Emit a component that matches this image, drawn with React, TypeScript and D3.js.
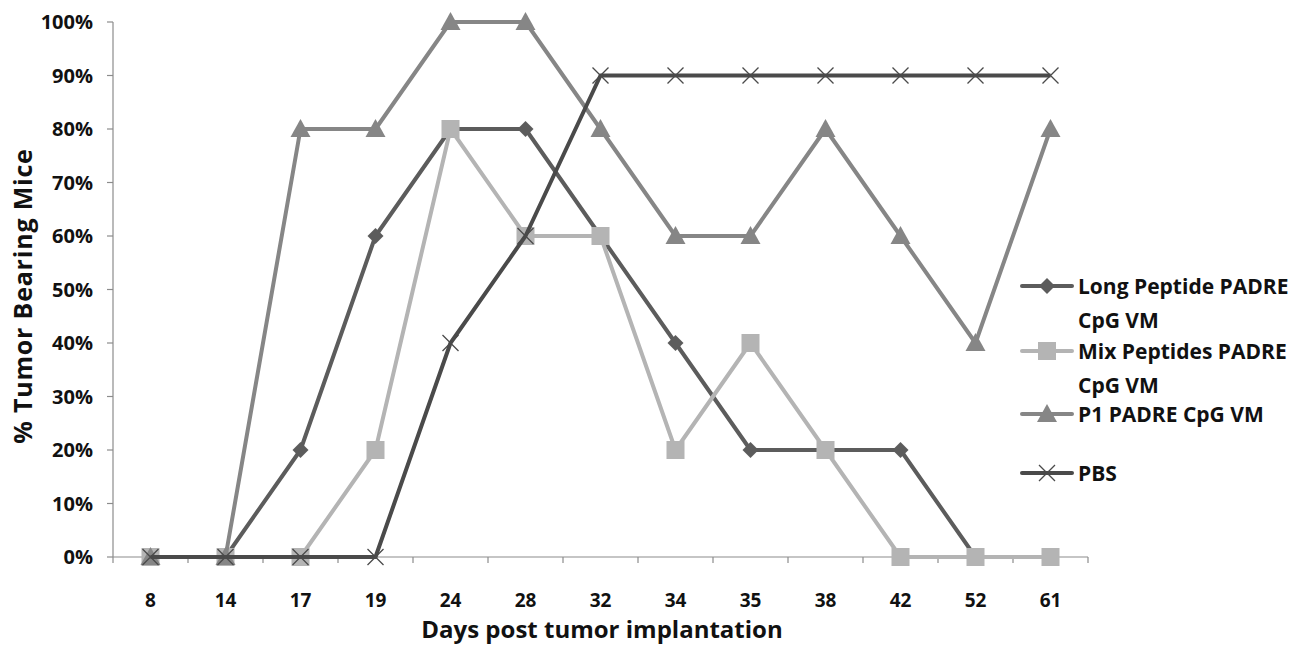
import * as d3 from "d3";

const days = ["8", "14", "17", "19", "24", "28", "32", "34", "35", "38", "42", "52", "61"];
const longPeptide = [0, 0, 20, 60, 80, 80, 60, 40, 20, 20, 20, 0, null];
const mixPeptides = [0, 0, 0, 20, 80, 60, 60, 20, 40, 20, 0, 0, 0];
const p1Padre = [0, 0, 80, 80, 100, 100, 80, 60, 60, 80, 60, 40, 80];
const pbs = [0, 0, 0, 0, 40, 60, 90, 90, 90, 90, 90, 90, 90];
const yTicks = [0, 10, 20, 30, 40, 50, 60, 70, 80, 90, 100];

const series = [
  { name: ["Long Peptide PADRE", "CpG VM"], values: longPeptide, color: "#5c5c5c", marker: "diamond" },
  { name: ["Mix Peptides PADRE", "CpG VM"], values: mixPeptides, color: "#b4b4b4", marker: "square" },
  { name: ["P1 PADRE CpG VM"], values: p1Padre, color: "#868686", marker: "triangle" },
  { name: ["PBS"], values: pbs, color: "#4a4a4a", marker: "x" },
];

const W = 1289;
const H = 648;
const M = { left: 113, right: 201, top: 22, bottom: 91 };
const FONT = "'Open Sans', Lato, sans-serif";

const Marker = ({ type, x, y, color }: { type: string; x: number; y: number; color: string }) => {
  if (type === "diamond") {
    const s = 8;
    return <path d={`M${x},${y - s}L${x + s},${y}L${x},${y + s}L${x - s},${y}Z`} fill={color} />;
  }
  if (type === "square") {
    return <rect x={x - 9} y={y - 9} width={18} height={18} fill={color} />;
  }
  if (type === "triangle") {
    return <path d={`M${x},${y - 10}L${x + 10},${y + 8}L${x - 10},${y + 8}Z`} fill={color} />;
  }
  const s = 8;
  return (
    <path
      d={`M${x - s},${y - s}L${x + s},${y + s}M${x - s},${y + s}L${x + s},${y - s}`}
      stroke={color}
      strokeWidth={1.3}
      fill="none"
    />
  );
};

export default function App() {
  const x = d3.scaleBand().domain(days).range([M.left, W - M.right]);
  const y = d3.scaleLinear().domain([0, 100]).range([H - M.bottom, M.top]);
  const cx = (d: string) => (x(d) as number) + x.bandwidth() / 2;

  const line = d3
    .line<number | null>()
    .defined((v) => v !== null)
    .x((_, i) => cx(days[i]))
    .y((v) => y(v as number));

  const legendY = [286, 351, 414, 473];

  return (
    <svg width={W} height={H} style={{ position: "absolute", left: 0, top: 0, background: "#fff" }} fontFamily={FONT}>
      {/* y axis */}
      <line x1={M.left} x2={M.left} y1={y(100)} y2={y(0)} stroke="#8c8c8c" strokeWidth={1.2} />
      {yTicks.map((t) => (
        <g key={t}>
          <line x1={M.left - 6} x2={M.left} y1={y(t)} y2={y(t)} stroke="#8c8c8c" strokeWidth={1.2} />
          <text x={M.left - 20} y={y(t)} dy="0.36em" textAnchor="end" fontSize={20} fontWeight="bold" fill="#111">
            {t}%
          </text>
        </g>
      ))}
      {/* x axis */}
      <line x1={M.left} x2={W - M.right} y1={y(0)} y2={y(0)} stroke="#8c8c8c" strokeWidth={1.2} />
      {[...days.map((d) => x(d) as number), W - M.right].map((v, i) => (
        <line key={i} x1={v} x2={v} y1={y(0)} y2={y(0) + 6} stroke="#8c8c8c" strokeWidth={1.2} />
      ))}
      {days.map((d) => (
        <text key={d} x={cx(d)} y={y(0) + 50} textAnchor="middle" fontSize={19} fontWeight="bold" fill="#111">
          {d}
        </text>
      ))}
      <text x={602} y={H - 10} textAnchor="middle" fontSize={24} fontWeight="bold" fill="#111">
        Days post tumor implantation
      </text>
      <text
        transform={`translate(32, 296) rotate(-90)`}
        textAnchor="middle"
        fontSize={25}
        fontWeight="bold"
        fill="#111"
        letterSpacing={0.8}
      >
        % Tumor Bearing Mice
      </text>

      {/* series */}
      {series.map((s) => (
        <g key={s.name[0]}>
          <path d={line(s.values) ?? ""} fill="none" stroke={s.color} strokeWidth={4} strokeLinejoin="round" />
          {s.values.map((v, i) =>
            v === null ? null : <Marker key={i} type={s.marker} x={cx(days[i])} y={y(v)} color={s.color} />
          )}
        </g>
      ))}

      {/* legend */}
      {series.map((s, i) => (
        <g key={s.name[0]}>
          <line x1={1022} x2={1072} y1={legendY[i]} y2={legendY[i]} stroke={s.color} strokeWidth={4} strokeLinecap="round" />
          <Marker type={s.marker} x={1047} y={legendY[i]} color={s.color} />
          {s.name.map((n, j) => (
            <text key={j} x={1078} y={legendY[i] + j * 34} dy="0.36em" fontSize={21} fontWeight="bold" fill="#111">
              {n}
            </text>
          ))}
        </g>
      ))}
    </svg>
  );
}
